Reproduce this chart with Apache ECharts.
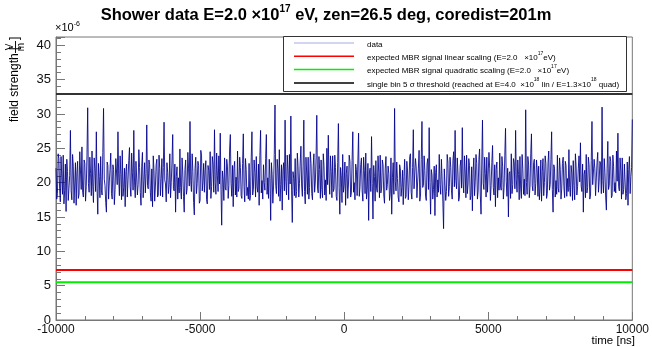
<!DOCTYPE html>
<html><head><meta charset="utf-8">
<script src="https://cdn.jsdelivr.net/npm/echarts@6/dist/echarts.min.js"></script>
<style>html,body{margin:0;padding:0;background:#fff}#c{width:652px;height:347px}</style>
</head><body><div id="c"></div>
<script>
// time axis range (ns); samples are evenly spaced across it
const timeRange = [-10000, 10000];
// field strength values (x10^-6 V/m)
const fieldValues = [
22.1,17.6,18.4,24.2,23.5,19.1,17.2,23.8,20.8,18.3,24.0,16.9,18.9,22.7,15.8,23.4,21.6,17.4,19.2,21.0,27.6,18.8,17.5,24.1,22.4,17.0,19.8,22.9,16.7,21.4,23.1,17.7,18.3,24.5,21.7,19.0,25.2,18.6,17.9,23.3,22.8,17.3,19.4,24.0,30.9,19.9,18.6,23.7,21.3,18.1,24.6,19.5,17.1,23.6,22.0,18.7,27.4,19.2,15.4,22.8,20.9,17.8,23.8,18.9,18.2,24.4,30.8,20.5,19.6,17.1,15.7,23.0,22.5,17.6,20.1,21.9,24.3,18.4,17.6,22.6,21.9,16.8,19.0,23.5,23.6,19.7,27.4,20.8,18.1,23.9,21.2,17.5,24.7,18.0,19.3,22.1,16.5,21.6,22.7,17.9,20.4,23.2,25.1,19.4,18.0,24.3,21.5,18.9,27.6,20.1,17.8,23.1,23.0,18.2,19.7,24.8,22.2,18.6,16.7,22.4,24.4,17.8,20.3,22.9,18.5,21.3,28.4,19.6,19.1,23.3,22.6,18.5,17.3,
22.0,
16.5,23.9,21.8,17.3,19.5,22.6,23.4,17.9,18.2,24.0,22.1,18.1,20.6,23.5,17.9,22.2,28.8,20.4,19.8,17.2,22.9,21.5,18.4,19.7,24.2,17.8,20.0,23.0,27.0,19.1,18.8,22.7,15.7,20.9,22.3,17.6,20.7,18.5,24.9,19.3,17.6,23.6,21.4,18.0,15.7,21.9,23.3,18.3,19.1,24.4,22.0,19.5,28.9,20.3,18.7,24.2,21.6,17.1,15.3,22.0,23.7,18.4,19.9,23.1,22.5,17.0,17.4,24.7,24.0,18.8,20.2,22.8,18.6,21.7,23.2,17.5,16.9,22.5,21.8,19.0,24.5,17.7,19.4,23.8,22.7,18.6,27.7,20.0,18.3,24.3,21.1,18.7,23.9,19.8,27.2,19.0,13.8,21.7,20.5,17.4,23.6,19.2,18.9,23.4,22.4,17.7,19.6,24.9,27.0,19.9,18.0,22.5,16.5,22.1,23.1,18.2,20.8,17.9,24.6,18.7,19.2,23.7,22.2,18.1,17.7,22.8,27.1,19.4,17.2,23.5,21.9,18.1,19.3,
17.6,
22.8,17.4,18.1,23.6,27.4,18.2,19.0,23.3,21.5,17.9,23.8,19.4,18.6,22.7,16.7,23.9,27.6,18.5,20.3,17.6,22.6,20.0,18.9,23.5,27.0,18.3,20.7,17.7,23.4,20.6,14.5,22.9,21.2,17.0,19.5,24.1,31.3,19.6,18.4,23.4,22.0,18.0,24.8,17.3,19.7,22.6,16.0,21.8,22.9,18.8,29.1,20.2,18.2,24.0,21.7,17.5,24.1,19.8,29.7,18.9,14.2,21.6,20.6,18.1,23.5,17.8,18.7,24.3,22.3,17.9,19.9,23.0,25.3,19.5,18.0,22.4,29.1,18.7,16.9,23.7,21.4,18.3,23.7,17.6,19.3,24.5,22.8,18.4,17.5,22.3,24.2,18.6,20.1,23.6,29.8,19.2,18.5,23.8,21.9,17.7,23.3,19.0,17.8,24.2,22.5,18.2,20.4,17.4,25.0,19.7,26.9,20.6,18.3,23.9,21.6,17.8,23.9,18.7,19.1,24.0,22.2,18.0,17.4,22.9,28.6,19.3,15.4,22.2,21.0,17.1,24.1,18.6,19.6,
23.0,
16.7,21.3,22.4,17.7,19.8,24.0,23.1,17.9,18.5,23.2,27.4,18.6,20.0,17.5,22.7,21.9,18.1,23.0,27.2,18.0,19.4,22.6,23.6,18.8,17.3,23.7,21.8,18.4,24.3,17.6,19.0,22.8,14.5,21.4,22.1,18.7,26.7,19.9,14.7,22.5,20.9,17.3,23.2,19.1,18.6,23.9,21.5,17.8,24.0,18.5,19.2,23.3,22.6,18.2,17.0,22.0,23.8,18.9,19.7,22.4,21.3,17.4,18.4,23.6,15.4,20.7,22.9,18.3,30.8,20.1,18.8,23.0,20.6,17.9,17.2,22.6,22.0,18.0,19.3,21.8,16.8,20.9,23.4,17.7,18.0,23.1,21.7,17.5,19.5,23.8,24.2,18.6,17.6,22.2,27.7,19.1,18.9,23.5,22.3,17.8,20.1,22.0,24.7,17.3,18.2,23.4,28.9,19.3,19.6,23.9,21.8,18.0,17.4,22.7,23.5,19.0,28.0,20.0,15.4,21.9,21.1,17.6,19.0,22.4,15.2,21.5,22.6,17.9,20.4,18.6,24.1,19.7,18.3,
23.4,
20.5,17.2,13.3,22.0,21.9,17.4,18.7,24.1,23.0,18.0,19.4,23.7,22.2,18.8,17.6,23.2,24.5,19.4,27.6,20.3,19.1,23.6,21.4,17.3,17.9,22.4,23.3,19.2,28.0,20.1,18.5,23.9,21.7,17.8,24.0,18.4,19.8,23.5,22.5,17.5,18.1,22.3,15.9,21.7,23.6,18.1,20.2,24.1,22.8,17.6,18.8,23.4,24.9,18.2,15.4,22.7,29.1,19.9,19.0,23.7,21.3,17.9,23.7,18.6,18.4,24.4,22.1,17.4,19.6,22.9,25.4,19.3,18.2,22.6,16.5,21.9,23.0,17.8,20.7,18.9,24.3,19.5,18.9,23.8,22.4,17.6,19.3,24.0,27.9,20.2,18.0,22.1,15.0,21.3,21.6,17.7,24.2,18.4,19.7,23.5,22.9,19.1,27.6,20.4,18.6,23.3,21.2,17.5,23.8,19.2,17.7,24.1,22.0,18.3,20.5,18.1,30.6,20.0,18.3,23.8,22.7,17.8,19.5,24.2,27.1,19.6,18.8,22.9,23.4,18.2,19.9,23.3,21.7,
18.0,
22.4,17.5,19.2,23.3,17.3,21.6,23.5,18.1,20.0,23.9,22.8,17.7,18.4,22.9,24.6,18.9,19.7,23.4,27.4,19.0,15.7,22.6,22.1,17.9,20.3,18.3,24.0,19.2,18.6,23.6,21.9,17.6,19.1,22.8,23.7,19.4,17.8,23.1,22.5,18.0,20.6,18.7,24.8,19.3,18.0,22.5,21.4,17.4,23.2,19.6,17.5,24.2,22.3,18.2,19.4,22.0,23.9,20.1,25.8,19.5,18.7,22.7,15.7,21.2,21.8,17.8,24.1,18.5,19.3,23.7,22.6,17.6,18.2,23.2,28.9,19.7,19.8,23.4,22.0,18.1,17.9,22.9,24.4,18.6,20.2,23.1,22.7,18.4,31.0,20.3,18.5,23.5,21.5,17.9,16.0,22.1,26.0,19.0,19.6,23.8,23.1,17.8,18.1,24.0,22.4,18.7,20.0,18.5,24.6,20.2,27.2,19.4,18.8,23.6,21.7,17.6,23.6,18.3,19.0,22.7,22.9,17.5,18.4,23.0,16.7,21.9,23.8,18.4,20.9,22.2,29.2
];
const linearLevel = 7.27;     // expected MBR signal, linear scaling
const quadraticLevel = 5.5;   // expected MBR signal, quadratic scaling
const thresholdLevel = 32.9;  // single bin 5 sigma threshold
const yRange = [0, 41.2];
const legendLabels = ['data','linear','quadratic','threshold'];

const step = (timeRange[1] - timeRange[0]) / (fieldValues.length - 1);
const dataPts = fieldValues.map((v, i) => [timeRange[0] + i * step, v]);
const hline = v => [[timeRange[0], v], [timeRange[1], v]];

const FONT = 'Liberation Sans, Arial, sans-serif';
const chart = echarts.init(document.getElementById('c'), null, {renderer: 'canvas'});

const supRich = {
  b: {fontSize: 8, fontFamily: FONT, color: '#111', lineHeight: 11, verticalAlign: 'bottom'},
  s: {fontSize: 5, fontFamily: FONT, color: '#111', lineHeight: 11, verticalAlign: 'top'}
};

const legendRows = [
  {color: '#a8a8e6', text: '{b|data}'},
  {color: '#ff0000', text: '{b|expected MBR signal linear scaling (E=2.0   \u00d710}{s|17}{b|eV)}'},
  {color: '#00ee00', text: '{b|expected MBR signal quadratic scaling (E=2.0   \u00d710}{s|17}{b|eV)}'},
  {color: '#000000', text: '{b|single bin 5 \u03c3 threshold (reached at E=4.0  \u00d710}{s|18}{b| lin / E=1.3\u00d710}{s|18}{b| quad)}'}
];
const legendEls = [{type: 'rect', shape: {x: 283.5, y: 36.5, width: 343, height: 55}, style: {fill: '#fff', stroke: '#333', lineWidth: 1}}];
legendRows.forEach((r, i) => {
  const y = 43 + i * 13.3;
  legendEls.push({type: 'line', shape: {x1: 294, y1: y, x2: 354, y2: y}, style: {stroke: r.color, lineWidth: i === 0 ? 1.2 : 1.5}});
  legendEls.push({type: 'text', x: 367, y: y, style: {text: r.text, rich: supRich, verticalAlign: 'middle', align: 'left'}});
});

chart.setOption({
  animation: false,
  backgroundColor: '#fff',
  grid: {left: 56, right: 17, top: 37, bottom: 27, show: true, borderColor: '#777', borderWidth: 1},
  xAxis: {
    type: 'value', min: timeRange[0], max: timeRange[1], interval: 5000,
    axisLine: {show: true, onZero: false, lineStyle: {color: '#777'}},
    axisTick: {show: true, inside: true, length: 8, lineStyle: {color: '#777'}},
    minorTick: {show: true, splitNumber: 5, length: 4, lineStyle: {color: '#777'}},
    splitLine: {show: false},
    axisLabel: {fontFamily: FONT, fontSize: 12, color: '#111', margin: 4, formatter: v => String(v)}
  },
  yAxis: {
    type: 'value', min: yRange[0], max: yRange[1], interval: 5,
    axisLine: {show: true, onZero: false, lineStyle: {color: '#777'}},
    axisTick: {show: true, inside: true, length: 9, lineStyle: {color: '#777'}},
    minorTick: {show: true, splitNumber: 5, length: 5, lineStyle: {color: '#777'}},
    splitLine: {show: false},
    axisLabel: {fontFamily: FONT, fontSize: 13, color: '#111', margin: 5, showMaxLabel: false,
      formatter: v => (Math.abs(v % 5) < 1e-9 ? String(v) : '')}
  },
  series: [
    {name: legendLabels[0], type: 'line', data: dataPts, symbol: 'none', silent: true,
      lineStyle: {color: '#00008b', width: 1, opacity: 0.85}},
    {name: legendLabels[1], type: 'line', data: hline(linearLevel), symbol: 'none', lineStyle: {color: '#ff0000', width: 2}},
    {name: legendLabels[2], type: 'line', data: hline(quadraticLevel), symbol: 'none', lineStyle: {color: '#00ee00', width: 2}},
    {name: legendLabels[3], type: 'line', data: hline(thresholdLevel), symbol: 'none', lineStyle: {color: '#333', width: 2}}
  ],
  graphic: [
    {type: 'text', left: 'center', top: 4, style: {
      text: '{t|Shower data E=2.0 \u00d710}{u|17}{t| eV, zen=26.5 deg, coredist=201m}',
      rich: {
        t: {fontFamily: FONT, fontWeight: 'bold', fontSize: 16.5, color: '#111', lineHeight: 20, verticalAlign: 'bottom'},
        u: {fontFamily: FONT, fontWeight: 'bold', fontSize: 10, color: '#111', lineHeight: 20, verticalAlign: 'top'}
      }}},
    {type: 'text', x: 55, y: 33, style: {
      text: '{a|\u00d710}{e|-6}',
      rich: {
        a: {fontFamily: FONT, fontSize: 11, color: '#222', lineHeight: 12, verticalAlign: 'bottom'},
        e: {fontFamily: FONT, fontSize: 7, color: '#222', lineHeight: 12, verticalAlign: 'top'}
      }, verticalAlign: 'bottom'}},
    {type: 'text', right: 17, top: 335, style: {text: 'time [ns]', fontFamily: FONT, fontSize: 11.5, color: '#111'}},
    {type: 'group', x: 15, y: 122, rotation: Math.PI / 2, children: [
      {type: 'text', x: 0, y: 0, style: {text: 'field strength [', fontFamily: FONT, fontSize: 12, color: '#111', verticalAlign: 'middle', align: 'left'}},
      {type: 'text', x: 75, y: -5, style: {text: 'V', fontFamily: FONT, fontSize: 10, color: '#111', verticalAlign: 'middle', align: 'center'}},
      {type: 'line', shape: {x1: 69, y1: 0.5, x2: 81, y2: 0.5}, style: {stroke: '#111', lineWidth: 1}},
      {type: 'text', x: 75, y: 6, style: {text: 'm', fontFamily: FONT, fontSize: 10, color: '#111', verticalAlign: 'middle', align: 'center'}},
      {type: 'text', x: 82, y: 0, style: {text: ']', fontFamily: FONT, fontSize: 12, color: '#111', verticalAlign: 'middle', align: 'left'}}
    ]},
    {type: 'group', children: legendEls}
  ]
});
</script>
</body></html>
